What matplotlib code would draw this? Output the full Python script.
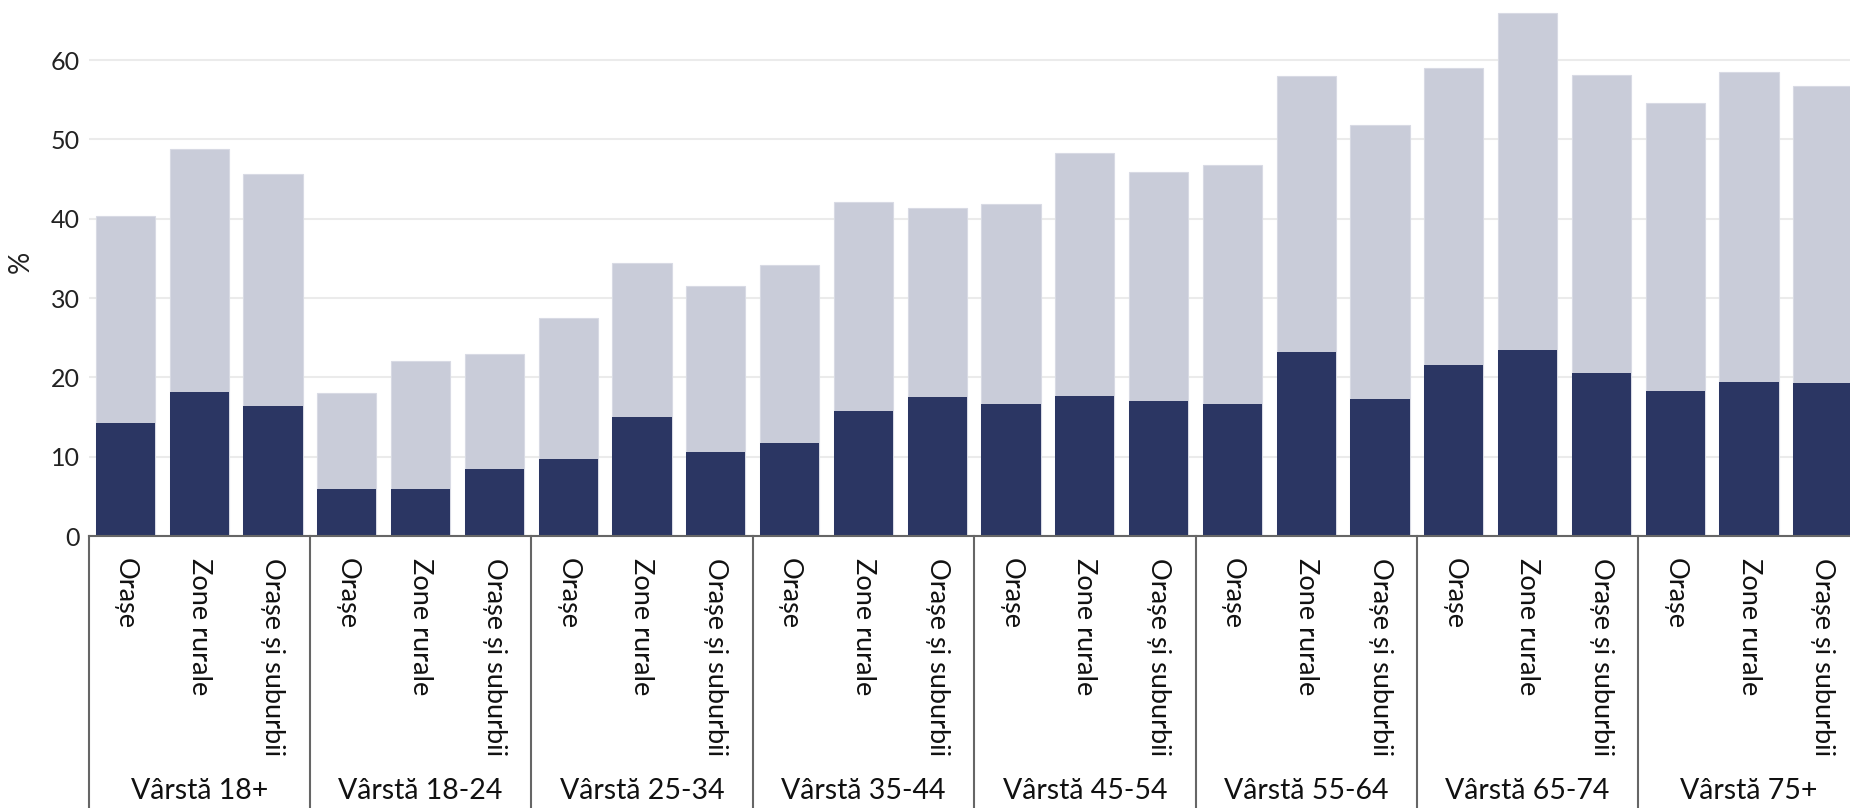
import matplotlib.pyplot as plt
import matplotlib.transforms as mtransforms

plt.rcParams["font.family"] = ["Lato", "DejaVu Sans"]

# Data
age_groups = ["Vârstă 18+", "Vârstă 18-24", "Vârstă 25-34", "Vârstă 35-44",
              "Vârstă 45-54", "Vârstă 55-64", "Vârstă 65-74", "Vârstă 75+"]
areas = ["Orașe", "Zone rurale", "Orașe și suburbii"]

# total (light bars)
total = [40.3, 48.8, 45.6,
         18.0, 22.1, 23.0,
         27.5, 34.4, 31.5,
         34.1, 42.1, 41.4,
         41.8, 48.3, 45.9,
         46.8, 58.0, 51.8,
         59.0, 65.9, 58.1,
         54.6, 58.5, 56.7]
# lower part (dark bars)
part = [14.3, 18.1, 16.4,
        5.9, 5.9, 8.5,
        9.7, 15.0, 10.6,
        11.7, 15.8, 17.5,
        16.6, 17.6, 17.0,
        16.6, 23.2, 17.3,
        21.5, 23.4, 20.6,
        18.3, 19.4, 19.3]

dark = "#2b3663"
light = "#c9ccd9"

W, H = 1850, 808
fig = plt.figure(figsize=(W / 100, H / 100), dpi=100)
slot = 73.8
ax = fig.add_axes([88.5 / W, (H - 536) / H, 24 * slot / W, 536 / H])

x = list(range(len(total)))
ax.bar(x, total, width=0.8, color=light, edgecolor="#d8dae4", linewidth=0.8, zorder=2)
ax.bar(x, part, width=0.8, color=dark, zorder=3)

ax.set_xlim(-0.5, len(total) - 0.5)
ax.set_ylim(0, 536 / 7.933)
ax.set_yticks([0, 10, 20, 30, 40, 50, 60])
ax.tick_params(axis="y", length=0, labelsize=18, pad=6, labelcolor="#222222")
ax.set_xticks([])
ax.grid(axis="y", color="#ebebeb", linewidth=1.5, zorder=0)
for s in ["top", "right", "left"]:
    ax.spines[s].set_visible(False)
ax.spines["bottom"].set_color("#666666")
ax.spines["bottom"].set_linewidth(1.5)
ax.spines["bottom"].set_zorder(4)

fig.text(21 / W, 1 - 262 / H, "%", rotation=90, ha="center", va="center",
         fontsize=20, color="#222222")

trans = mtransforms.blended_transform_factory(ax.transData, ax.transAxes)
below = -(H - 536) / 536
for i in range(len(x)):
    ax.text(i, -22 / 536, areas[i % 3], rotation=270, ha="center", va="top",
            fontsize=19.5, color="#111111", transform=trans)

for g, name in enumerate(age_groups):
    left = g * 3 - 0.5
    ax.plot([left, left], [0, below], transform=trans, color="#666666",
            linewidth=1.5, clip_on=False)
    ax.text(g * 3 + 1, -(791 - 536) / 536, name, ha="center", va="center",
            fontsize=20.5, color="#111111", transform=trans)

fig.savefig("out.png", dpi=100)
